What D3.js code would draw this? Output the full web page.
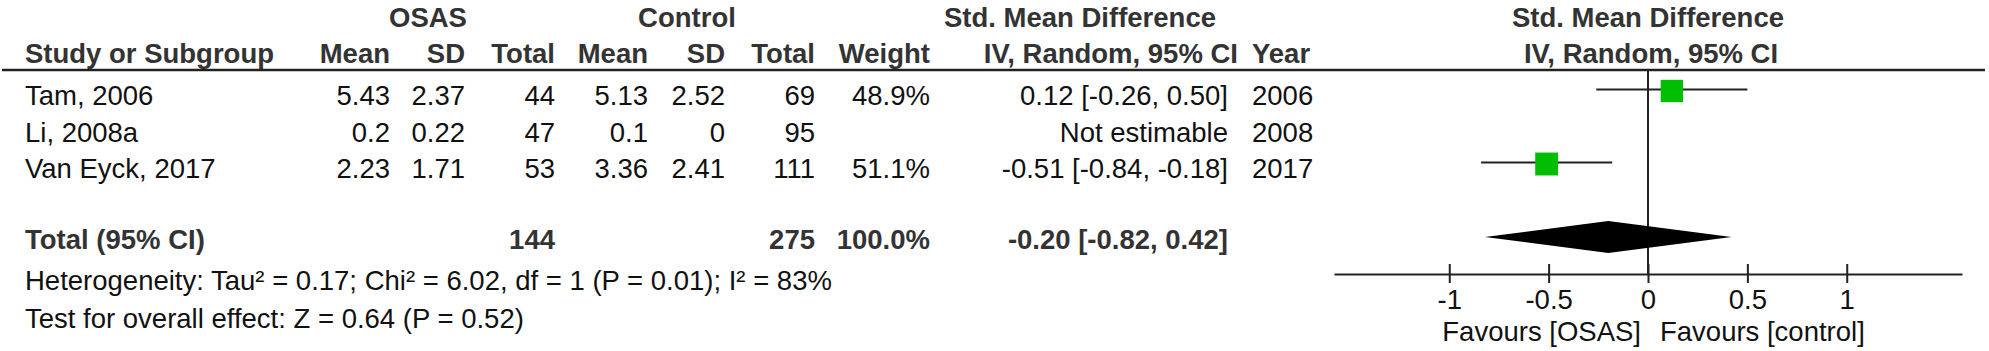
<!DOCTYPE html>
<html>
<head>
<meta charset="utf-8">
<script src="https://cdn.jsdelivr.net/npm/d3@7"></script>
<style>
body { margin: 0; background: #fff; }
text { font-family: "Liberation Sans", Arial, sans-serif; font-size: 27.5px; }
</style>
</head>
<body>
<div id="chart-area"></div>
<script>
// study rows
var studies = ["Tam, 2006", "Li, 2008a", "Van Eyck, 2017"];
var osasMean = ["5.43", "0.2", "2.23"];
var osasSD = ["2.37", "0.22", "1.71"];
var osasN = [44, 47, 53];
var ctrlMean = ["5.13", "0.1", "3.36"];
var ctrlSD = ["2.52", "0", "2.41"];
var ctrlN = [69, 95, 111];
var weights = [48.9, null, 51.1];
var smd = [0.12, null, -0.51];
var lower = [-0.26, null, -0.84];
var upper = [0.50, null, -0.18];
var years = [2006, 2008, 2017];

// pooled result
var osasTotal = 144, ctrlTotal = 275, totalWeight = "100.0%";
var pooled = -0.20, pooledLo = -0.82, pooledHi = 0.42;

var ticks = [-1, -0.5, 0, 0.5, 1];
var hetText = "Heterogeneity: Tau\u00b2 = 0.17; Chi\u00b2 = 6.02, df = 1 (P = 0.01); I\u00b2 = 83%";
var effectText = "Test for overall effect: Z = 0.64 (P = 0.52)";

var width = 1989, height = 351;
var dark = "#333", ink = "#111";

var svg = d3.select("#chart-area").append("svg")
	.attr("width", width)
	.attr("height", height);

var x = d3.scaleLinear().domain([-1.58, 1.58]).range([1334, 1962]);
var row = d3.scaleLinear().domain([0, 2]).range([105, 178]);
// plain hyphen for negatives, like the reference
var fmt = d3.formatLocale({decimal: ".", thousands: ",", grouping: [3], currency: ["", ""], minus: "-"}).format(".2f");

function txt(s, px, py, anchor, bold) {
	return svg.append("text")
		.attr("x", px).attr("y", py)
		.attr("text-anchor", anchor)
		.attr("font-weight", bold ? "bold" : "normal")
		.attr("fill", bold ? dark : ink)
		.text(s);
}

// headers
txt("OSAS", 428, 27, "middle", true);
txt("Control", 687, 27, "middle", true);
txt("Std. Mean Difference", 1080, 27, "middle", true);
txt("Std. Mean Difference", 1648, 27, "middle", true);

txt("Study or Subgroup", 25, 63, "start", true);
txt("Mean", 390, 63, "end", true);
txt("SD", 465, 63, "end", true);
txt("Total", 555, 63, "end", true);
txt("Mean", 648, 63, "end", true);
txt("SD", 725, 63, "end", true);
txt("Total", 815, 63, "end", true);
txt("Weight", 930, 63, "end", true);
txt("IV, Random, 95% CI", 1238, 63, "end", true);
txt("Year", 1252, 63, "start", true);
txt("IV, Random, 95% CI", 1651, 63, "middle", true);

svg.append("line")
	.attr("x1", 2).attr("x2", 1985)
	.attr("y1", 70).attr("y2", 70)
	.attr("stroke", "#222").attr("stroke-width", 2.5);

// study rows
studies.forEach((s, i) => {
	var y = row(i);
	txt(s, 25, y, "start", false);
	txt(osasMean[i], 390, y, "end", false);
	txt(osasSD[i], 465, y, "end", false);
	txt(osasN[i], 555, y, "end", false);
	txt(ctrlMean[i], 648, y, "end", false);
	txt(ctrlSD[i], 725, y, "end", false);
	txt(ctrlN[i], 815, y, "end", false);
	if (weights[i] != null) txt(weights[i].toFixed(1) + "%", 930, y, "end", false);
	if (smd[i] != null) {
		txt(fmt(smd[i]) + " [" + fmt(lower[i]) + ", " + fmt(upper[i]) + "]", 1228, y, "end", false);
	} else {
		txt("Not estimable", 1228, y, "end", false);
	}
	txt(years[i], 1252, y, "start", false);
});

// total row
var ty = 249;
txt("Total (95% CI)", 25, ty, "start", true);
txt(osasTotal, 555, ty, "end", true);
txt(ctrlTotal, 815, ty, "end", true);
txt(totalWeight, 930, ty, "end", true);
txt(fmt(pooled) + " [" + fmt(pooledLo) + ", " + fmt(pooledHi) + "]", 1228, ty, "end", true);
txt(hetText, 25, 290, "start", false);
txt(effectText, 25, 327.5, "start", false);

// plot
var axisY = 274;
svg.append("line")
	.attr("x1", x(0)).attr("x2", x(0))
	.attr("y1", 70).attr("y2", axisY)
	.attr("stroke", "#222").attr("stroke-width", 2);

var idx = d3.range(studies.length).filter((i) => smd[i] != null);

svg.selectAll(".ci")
	.data(idx)
	.enter()
	.append("line")
	.attr("class", "ci")
	.attr("x1", (i) => x(lower[i]))
	.attr("x2", (i) => x(upper[i]))
	.attr("y1", (i) => row(i) - 15.5)
	.attr("y2", (i) => row(i) - 15.5)
	.attr("stroke", "#222").attr("stroke-width", 2);

svg.selectAll(".sq")
	.data(idx)
	.enter()
	.append("rect")
	.attr("class", "sq")
	.attr("x", (i) => x(smd[i]) - 1.6 * Math.sqrt(weights[i]))
	.attr("y", (i) => row(i) - 14 - 1.6 * Math.sqrt(weights[i]))
	.attr("width", (i) => 3.2 * Math.sqrt(weights[i]))
	.attr("height", (i) => 3.2 * Math.sqrt(weights[i]))
	.attr("fill", "#00bf00");

var dy = 237;
svg.append("path")
	.attr("d", "M" + x(pooledLo) + "," + dy +
		"L" + x(pooled) + "," + (dy - 16) +
		"L" + x(pooledHi) + "," + dy +
		"L" + x(pooled) + "," + (dy + 16) + "Z")
	.attr("fill", "#000");

var axis = svg.append("g")
	.attr("transform", "translate(0," + axisY + ")")
	.call(d3.axisBottom(x).tickValues(ticks).tickSize(9).tickSizeOuter(0)
		.tickFormat((d) => String(d)));

axis.attr("font-size", null).attr("font-family", null);
axis.select(".domain").attr("stroke", "#222").attr("stroke-width", 2);
axis.selectAll(".tick line").attr("y1", -10).attr("stroke", "#222").attr("stroke-width", 2);
axis.selectAll(".tick text").attr("dy", null).attr("y", 35).attr("fill", ink);

txt("Favours [OSAS]", x(0) - 7, 341, "end", false);
txt("Favours [control]", x(0) + 12, 341, "start", false);
</script>
</body>
</html>
